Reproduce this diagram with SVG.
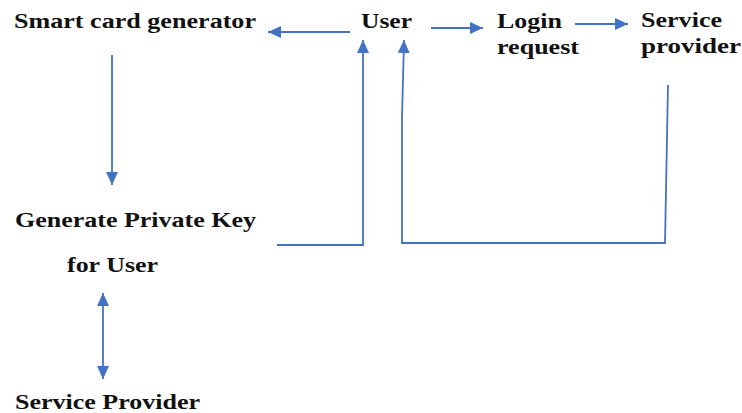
<svg xmlns="http://www.w3.org/2000/svg" width="742" height="413" viewBox="0 0 742 413">
  <style>
    .lbl { font-family: "Liberation Serif", "DejaVu Serif", serif; font-weight: bold; font-size: 22px; fill: #111; }
    .con { fill: none; stroke: #4472C4; stroke-width: 1.8; }
  </style>
  <defs>
    <marker id="ah" markerUnits="userSpaceOnUse" markerWidth="14" markerHeight="12" refX="13" refY="6" orient="auto-start-reverse">
      <path d="M0,0 L13,6 L0,12 z" fill="#4472C4"/>
    </marker>
  </defs>
  <rect width="742" height="413" fill="#ffffff"/>
  <g id="node-smart-card-generator">
    <text class="lbl" x="14" y="28" textLength="242" lengthAdjust="spacingAndGlyphs">Smart card generator</text>
  </g>
  <g id="node-user">
    <text class="lbl" x="361" y="28" textLength="51" lengthAdjust="spacingAndGlyphs">User</text>
  </g>
  <g id="node-login-request">
    <text class="lbl" x="497" y="28" textLength="65" lengthAdjust="spacingAndGlyphs">Login</text>
    <text class="lbl" x="497" y="54" textLength="82" lengthAdjust="spacingAndGlyphs">request</text>
  </g>
  <g id="node-service-provider-top">
    <text class="lbl" x="641" y="27" textLength="81" lengthAdjust="spacingAndGlyphs">Service</text>
    <text class="lbl" x="641" y="53" textLength="100" lengthAdjust="spacingAndGlyphs">provider</text>
  </g>
  <g id="node-generate-private-key">
    <text class="lbl" x="15" y="227" textLength="241" lengthAdjust="spacingAndGlyphs">Generate Private Key</text>
    <text class="lbl" x="67" y="272" textLength="91" lengthAdjust="spacingAndGlyphs">for User</text>
  </g>
  <g id="node-service-provider-bottom">
    <text class="lbl" x="15" y="409" textLength="185" lengthAdjust="spacingAndGlyphs">Service Provider</text>
  </g>
  <g id="connectors">
    <line class="con" x1="350" y1="32" x2="268" y2="32" marker-end="url(#ah)"/>
    <line class="con" x1="431" y1="28" x2="483" y2="28" marker-end="url(#ah)"/>
    <line class="con" x1="575" y1="24" x2="628" y2="24" marker-end="url(#ah)"/>
    <line class="con" x1="112" y1="55" x2="112" y2="185" marker-end="url(#ah)"/>
    <polyline class="con" points="277,245 363,245 363,40" marker-end="url(#ah)"/>
    <polyline class="con" points="668,85 665,243 402,243 402,117 404,40" marker-end="url(#ah)"/>
    <line class="con" x1="103" y1="293" x2="103" y2="379" marker-start="url(#ah)" marker-end="url(#ah)"/>
  </g>
</svg>
